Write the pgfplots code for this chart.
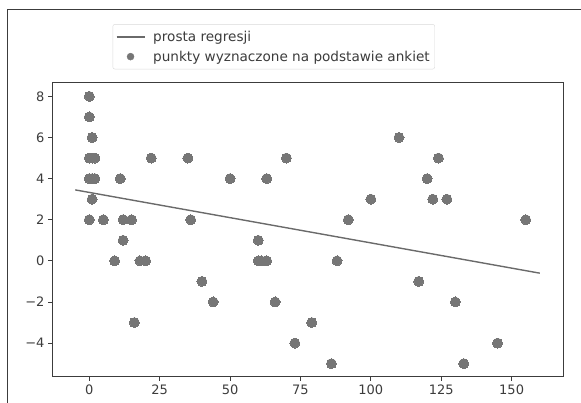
\documentclass[border=0pt]{standalone}
\usepackage{pgfplots}
\pgfplotsset{compat=1.18}
\usepackage{fontspec}
\setmainfont{DejaVu Sans}
\definecolor{pt}{HTML}{767676}
\definecolor{ln}{HTML}{6A6A6A}
\definecolor{ax}{HTML}{3C3C3C}
\begin{document}
\begin{tikzpicture}[x=1pt,y=1pt]
\useasboundingbox (0,0) rectangle (581,403);
\draw[ax,line width=1pt] (7.5,0) -- (7.5,393) -- (581,393);
\begin{axis}[
  at={(52pt,26pt)}, anchor=south west,
  width=511pt, height=294pt, scale only axis,
  xmin=-13.25, xmax=168.25, ymin=-5.65, ymax=8.65,
  xtick={0,25,50,75,100,125,150},
  ytick={-4,-2,0,2,4,6,8},
  yticklabels={−4,−2,0,2,4,6,8},
  tick pos=left, tick align=outside,
  major tick length=4pt,
  tick style={ax,line width=0.8pt},
  axis line style={ax,line width=1pt},
  ticklabel style={font=\fontsize{13}{15}\selectfont, text=ax},
  /pgf/number format/assume math mode=true,
  legend style={at={(0.434,1.2)}, anchor=north, draw=black!15, rounded corners=2pt,
    font=\fontsize{13.6}{16}\selectfont, text=ax, row sep=4pt, inner xsep=3pt, inner ysep=4.5pt},
  legend cell align=left,
  legend image code/.code={\draw[#1] (0pt,0pt) -- (28pt,0pt); \path (34pt,0pt);},
]
\addplot[ln, line width=1.4pt, no marks] coordinates {(-5,3.45) (160,-0.6)};
\addlegendentry{prosta regresji}
\addplot[only marks, color=pt, mark=*, mark size=5pt, mark options={fill=pt, draw=pt, line width=0pt},
  legend image code/.code={\fill[pt] (14pt,0pt) circle (3.5pt); \path (0pt,0pt) (34pt,0pt);}]
 coordinates {
 (0,8) (0,7) (1,6) (0,5) (1,5) (2,5) (22,5) (35,5) (70,5) (124,5)
 (0,4) (1,4) (2,4) (11,4) (50,4) (63,4) (120,4)
 (1,3) (100,3) (122,3) (127,3)
 (0,2) (5,2) (12,2) (15,2) (36,2) (92,2) (155,2)
 (12,1) (60,1)
 (9,0) (18,0) (20,0) (60,0) (61,0) (63,0) (88,0)
 (40,-1) (117,-1)
 (44,-2) (66,-2) (130,-2)
 (16,-3) (79,-3)
 (73,-4) (145,-4)
 (86,-5) (133,-5)
 (110,6)
 };
\addlegendentry{punkty wyznaczone na podstawie ankiet}
\end{axis}
\end{tikzpicture}
\end{document}
